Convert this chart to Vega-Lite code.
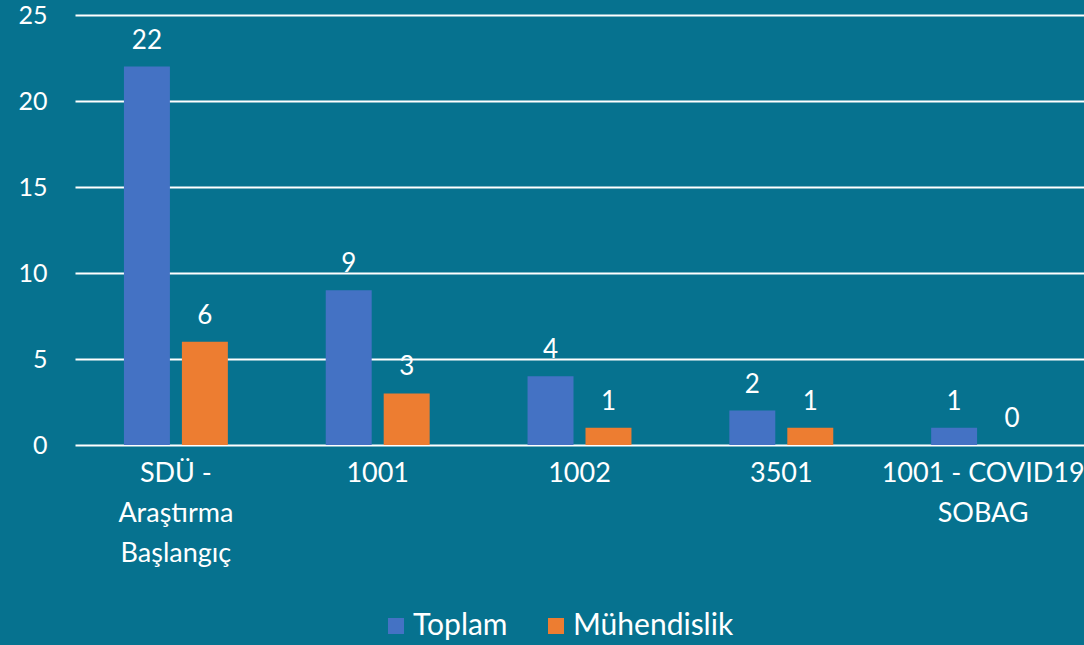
{
  "$schema": "https://vega.github.io/schema/vega-lite/v6.json",
  "width": 1009,
  "height": 430,
  "autosize": {"type": "none"},
  "padding": {"left": 75, "top": 15, "right": 0, "bottom": 200},
  "background": "#06728f",
  "config": {
    "view": {"stroke": null},
    "font": "Lato"
  },
  "data": {
    "values": [
      {"cat": "SDÜ -|Araştırma|Başlangıç", "series": "Toplam", "value": 22},
      {"cat": "SDÜ -|Araştırma|Başlangıç", "series": "Mühendislik", "value": 6},
      {"cat": "1001", "series": "Toplam", "value": 9},
      {"cat": "1001", "series": "Mühendislik", "value": 3},
      {"cat": "1002", "series": "Toplam", "value": 4},
      {"cat": "1002", "series": "Mühendislik", "value": 1},
      {"cat": "3501", "series": "Toplam", "value": 2},
      {"cat": "3501", "series": "Mühendislik", "value": 1},
      {"cat": "1001 - COVID19|SOBAG", "series": "Toplam", "value": 1},
      {"cat": "1001 - COVID19|SOBAG", "series": "Mühendislik", "value": 0}
    ]
  },
  "encoding": {
    "x": {
      "field": "cat", "type": "nominal", "sort": null,
      "scale": {"paddingInner": 0.485, "paddingOuter": 0.2425},
      "axis": {
        "title": null, "domain": false, "ticks": false,
        "labelAngle": 0, "labelColor": "white", "labelFontSize": 27,
        "labelPadding": 28, "labelBaseline": "middle", "labelLineHeight": 40,
        "labelLimit": 0,
        "labelExpr": "split(datum.value, '|')"
      }
    },
    "xOffset": {
      "field": "series", "type": "nominal", "sort": ["Toplam", "Mühendislik"],
      "scale": {"paddingInner": 0.207, "paddingOuter": 0}
    },
    "y": {
      "field": "value", "type": "quantitative",
      "scale": {"domain": [0, 25]},
      "axis": {
        "title": null, "domain": false, "ticks": false,
        "values": [0, 5, 10, 15, 20, 25],
        "gridColor": "white", "gridWidth": 2, "gridOpacity": 1,
        "labelColor": "white", "labelFontSize": 25, "labelPadding": 28
      }
    }
  },
  "layer": [
    {
      "mark": {"type": "bar"},
      "encoding": {
        "color": {
          "field": "series", "type": "nominal",
          "sort": ["Toplam", "Mühendislik"],
          "scale": {"domain": ["Toplam", "Mühendislik"], "range": ["#4472C4", "#ED7D31"]},
          "legend": {
            "title": null, "orient": "none", "direction": "horizontal",
            "legendX": 306, "legendY": 596,
            "symbolType": "square", "symbolSize": 256, "symbolOpacity": 1,
            "symbolStrokeWidth": 0,
            "labelColor": "white", "labelFontSize": 30, "labelOffset": 2,
            "labelLimit": 0,
            "columnPadding": 33
          }
        }
      }
    },
    {
      "mark": {"type": "text", "color": "white", "fontSize": 26, "dy": -18, "baseline": "alphabetic"},
      "encoding": {
        "text": {"field": "value", "type": "quantitative"}
      }
    }
  ]
}
